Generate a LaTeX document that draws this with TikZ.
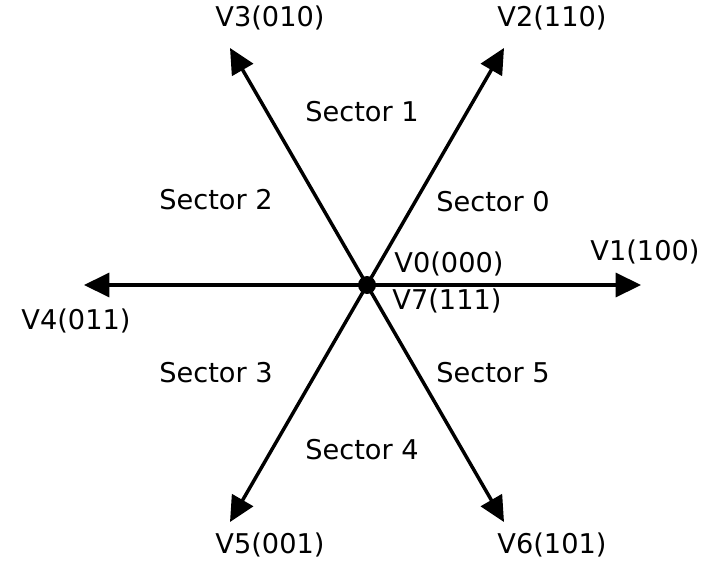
\documentclass[tikz,border=0pt]{standalone}
\usepackage{fontspec}
\setmainfont{DejaVu Sans}
\usetikzlibrary{arrows.meta,positioning}

\begin{document}
\begin{tikzpicture}[x=0.75pt,y=-0.75pt, lbl/.style={inner sep=0pt,font=\fontsize{20.4}{24}\selectfont}, vec/.style={line width=2.6pt,-{Triangle[length=19pt,width=18pt]}}]
\useasboundingbox (0,0) rectangle (705,563);
\node[circle,fill,inner sep=0pt,minimum size=13.5pt] (o) at (367,285) {};
\coordinate (v1) at (641,285);
\coordinate (v2) at (504,48);
\coordinate (v3) at (230,48);
\coordinate (v4) at (84,285);
\coordinate (v5) at (230,522);
\coordinate (v6) at (504,522);
\draw[vec] (o.center)--(v1);\draw[vec] (o.center)--(v2);\draw[vec] (o.center)--(v3);
\draw[vec] (o.center)--(v4);\draw[vec] (o.center)--(v5);\draw[vec] (o.center)--(v6);
\node[lbl] (l1) at (645,252) {V1(100)};
\node[lbl] (l2) at (552,18) {V2(110)};
\node[lbl] (l3) at (270,18) {V3(010)};
\node[lbl] (l4) at (76,321) {V4(011)};
\node[lbl] (l5) at (270,545) {V5(001)};
\node[lbl] (l6) at (552,545) {V6(101)};
\node[lbl] (l0) at (449,264) {V0(000)};
\node[lbl] (l7) at (447,301) {V7(111)};
\node[lbl] (s0) at (493,202) {Sector 0};
\node[lbl] (s1) at (362,112) {Sector 1};
\node[lbl] (s2) at (216,200) {Sector 2};
\node[lbl] (s3) at (216,373) {Sector 3};
\node[lbl] (s4) at (362,450) {Sector 4};
\node[lbl] (s5) at (493,373) {Sector 5};
\end{tikzpicture}
\end{document}
